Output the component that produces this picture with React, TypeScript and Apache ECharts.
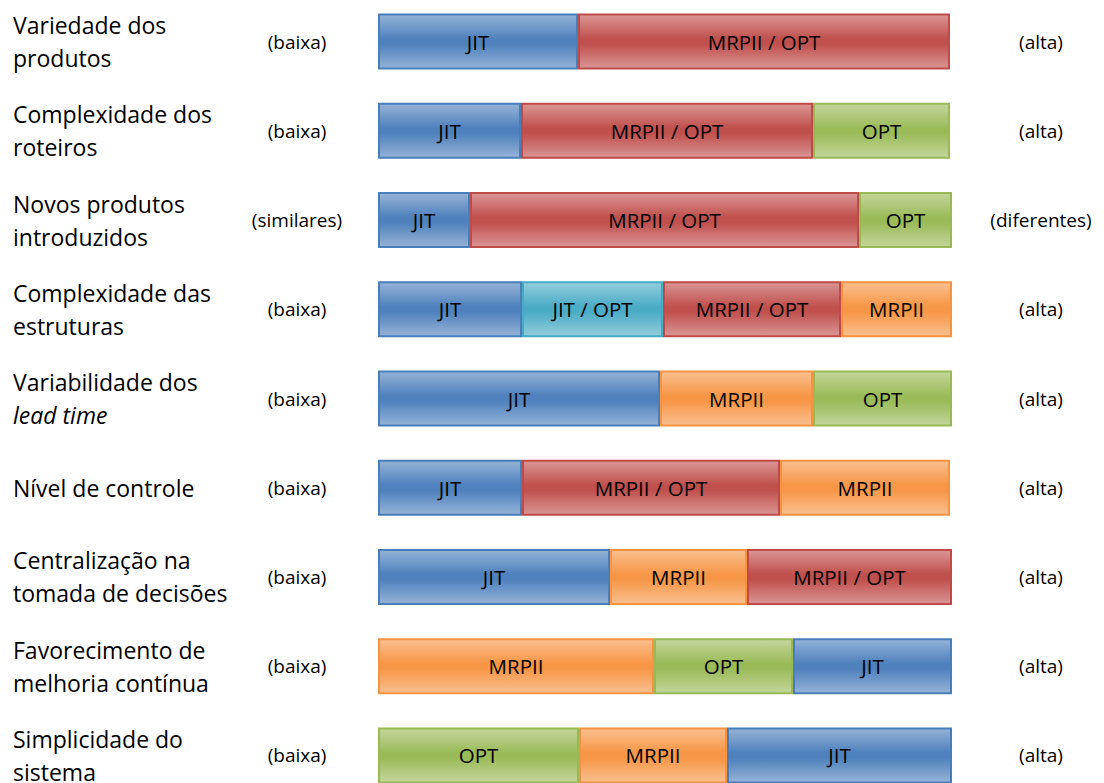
import React, { useEffect, useRef } from "react";
import * as echarts from "echarts";

const factors = [
  "Variedade dos\nprodutos",
  "Complexidade dos\nroteiros",
  "Novos produtos\nintroduzidos",
  "Complexidade das\nestruturas",
  "Variabilidade dos\n{i|lead time}",
  "Nível de controle",
  "Centralização na\ntomada de decisões",
  "Favorecimento de\nmelhoria contínua",
  "Simplicidade do\nsistema",
];

const lowLabels = ["(baixa)", "(baixa)", "(similares)", "(baixa)", "(baixa)", "(baixa)", "(baixa)", "(baixa)", "(baixa)"];
const highLabels = ["(alta)", "(alta)", "(diferentes)", "(alta)", "(alta)", "(alta)", "(alta)", "(alta)", "(alta)"];

const segmentLabels: string[][] = [
  ["JIT", "MRPII / OPT"],
  ["JIT", "MRPII / OPT", "OPT"],
  ["JIT", "MRPII / OPT", "OPT"],
  ["JIT", "JIT / OPT", "MRPII / OPT", "MRPII"],
  ["JIT", "MRPII", "OPT"],
  ["JIT", "MRPII / OPT", "MRPII"],
  ["JIT", "MRPII", "MRPII / OPT"],
  ["MRPII", "OPT", "JIT"],
  ["OPT", "MRPII", "JIT"],
];

const segmentValues: number[][] = [
  [200, 372],
  [143, 292, 137],
  [92, 389, 93],
  [144, 141, 178, 111],
  [282, 153, 139],
  [144, 258, 170],
  [232, 137, 205],
  [276, 139, 159],
  [201, 148, 227],
];

const palette: Record<string, [string, string, string]> = {
  JIT: ["#95b3d7", "#4f81bd", "#4a7ebb"],
  "MRPII / OPT": ["#da9694", "#c0504d", "#be4b48"],
  OPT: ["#c3d69b", "#9bbb59", "#98b954"],
  "JIT / OPT": ["#93cddd", "#4bacc6", "#46aac5"],
  MRPII: ["#fac090", "#f79646", "#f69240"],
};

const FONT = "Open Sans";

function gradient(name: string) {
  const [light, mid] = palette[name];
  return new echarts.graphic.LinearGradient(0, 0, 0, 1, [
    { offset: 0, color: light },
    { offset: 0.45, color: mid },
    { offset: 0.55, color: mid },
    { offset: 1, color: light },
  ]);
}

export default function App() {
  const ref = useRef<HTMLDivElement>(null);
  useEffect(() => {
    if (!ref.current) return;
    const chart = echarts.init(ref.current, undefined, { renderer: "svg" });
    const maxSegs = Math.max(...segmentValues.map((r) => r.length));
    const series: any[] = [];
    for (let k = 0; k < maxSegs; k++) {
      series.push({
        type: "bar",
        stack: "total",
        barWidth: 56,
        yAxisIndex: 0,
        data: segmentValues.map((row, i) => {
          if (k >= row.length) return "-";
          const name = segmentLabels[i][k];
          return {
            value: row[k],
            name,
            itemStyle: {
              color: gradient(name),
              borderColor: palette[name][2],
              borderWidth: 2,
            },
            label: {
              show: true,
              position: "inside",
              formatter: name,
              color: "#000",
              fontSize: 20.5,
              fontFamily: FONT,
            },
          };
        }),
      });
    }
    const gridLeft = 378;
    const gridWidth = 573;
    chart.setOption({
      animation: false,
      backgroundColor: "#fff",
      grid: { left: gridLeft, top: 0, width: gridWidth, height: 803, containLabel: false },
      xAxis: { type: "value", min: 0, max: gridWidth, show: false },
      yAxis: [
        {
          type: "category",
          inverse: true,
          data: factors,
          axisLine: { show: false },
          axisTick: { show: false },
          axisLabel: {
            interval: 0,
            align: "left",
            margin: gridLeft - 13,
            color: "#000",
            fontSize: 23,
            lineHeight: 33,
            fontFamily: FONT,
            rich: {
              i: { fontStyle: "italic", fontSize: 23, lineHeight: 33, fontFamily: FONT, color: "#000" },
            },
          },
        },
        {
          type: "category",
          inverse: true,
          position: "left",
          data: lowLabels,
          axisLine: { show: false },
          axisTick: { show: false },
          axisLabel: {
            interval: 0,
            align: "center",
            margin: gridLeft - 297,
            color: "#000",
            fontSize: 19,
            fontFamily: FONT,
          },
        },
        {
          type: "category",
          inverse: true,
          position: "right",
          data: highLabels,
          axisLine: { show: false },
          axisTick: { show: false },
          axisLabel: {
            interval: 0,
            align: "center",
            margin: 1041 - (gridLeft + gridWidth),
            color: "#000",
            fontSize: 19,
            fontFamily: FONT,
          },
        },
      ],
      series,
    });
    return () => chart.dispose();
  }, []);
  return (
    <div
      ref={ref}
      style={{ position: "absolute", left: 0, top: -3, width: 1104, height: 803 }}
    />
  );
}
